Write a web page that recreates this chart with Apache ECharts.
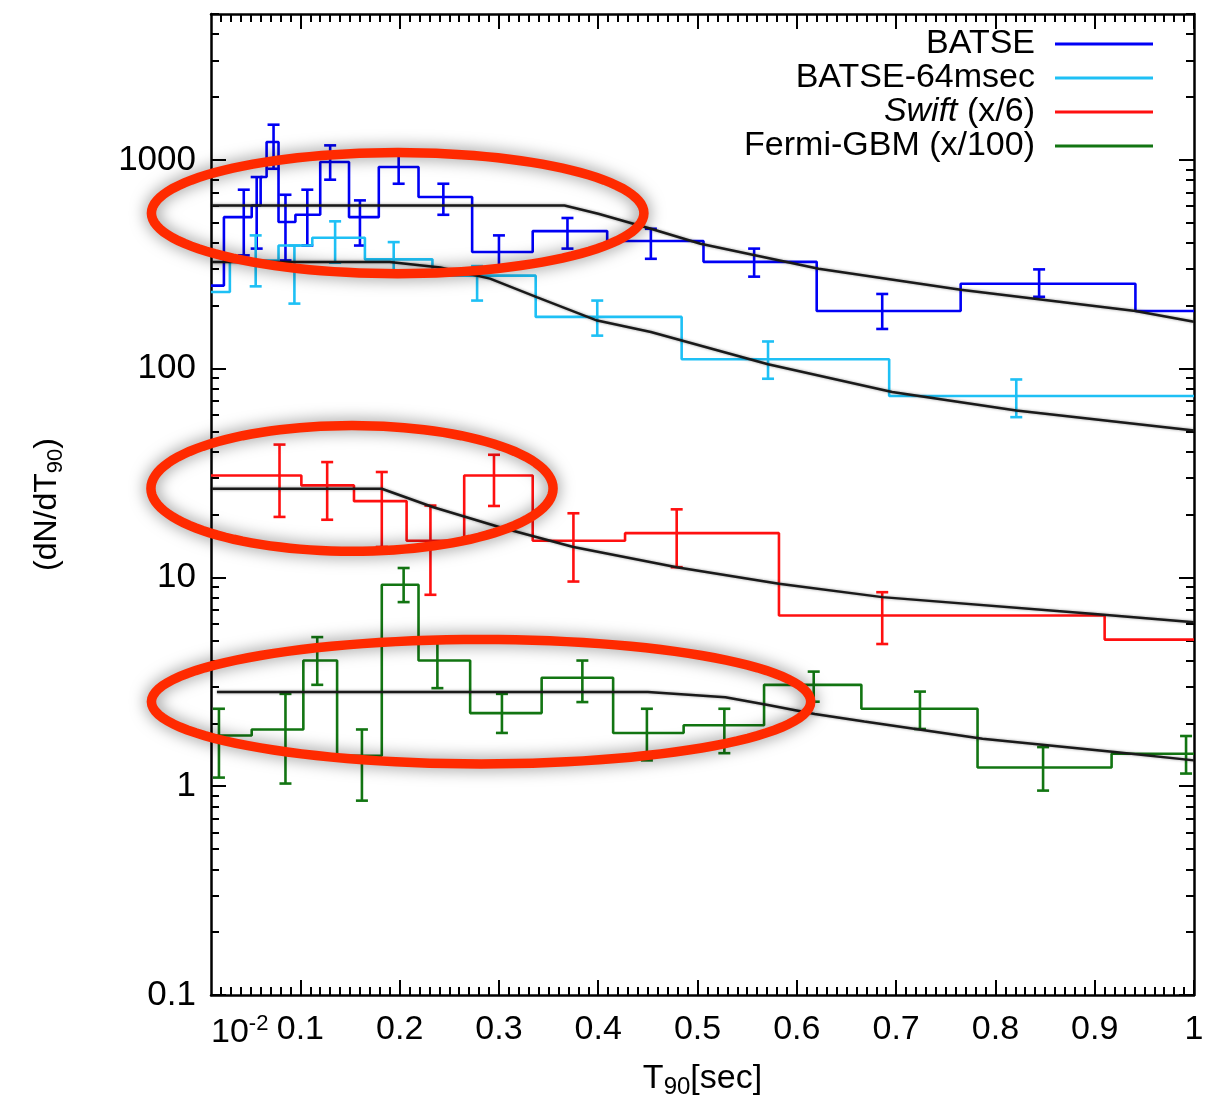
<!DOCTYPE html>
<html><head><meta charset="utf-8">
<script src="https://cdn.jsdelivr.net/npm/echarts@6/dist/echarts.min.js"></script>
<style>html,body{margin:0;padding:0;background:#fff}#c{width:1220px;height:1104px}</style>
</head><body><div id="c"></div>
<script>
// ---------------- data ----------------
const xTickValues = [0.01, 0.1, 0.2, 0.3, 0.4, 0.5, 0.6, 0.7, 0.8, 0.9, 1.0];
const xTickLabels = ['{m|10}{sup|-2}', '0.1', '0.2', '0.3', '0.4', '0.5', '0.6', '0.7', '0.8', '0.9', '1'];
const yTickValues = [0.1, 1, 10, 100, 1000];
const yTickLabels = ['0.1', '1', '10', '100', '1000'];

const seriesNames = ['BATSE', 'BATSE-64msec', 'Swift (x/6)', 'Fermi-GBM (x/100)'];

const batseEdges  = [0.01, 0.023, 0.051, 0.060, 0.066, 0.078, 0.095, 0.120, 0.149, 0.179, 0.219, 0.273, 0.334, 0.409, 0.506, 0.620, 0.765, 0.941, 1.0];
const batseValues = [250, 532, 605, 828, 1219, 504, 546, 977, 532, 925, 664, 362, 456, 409, 325, 189, 255, 189];
const batseErrX    = [0.043, 0.056, 0.073, 0.085, 0.107, 0.130, 0.160, 0.199, 0.244, 0.300, 0.369, 0.453, 0.557, 0.686, 0.844];
const batseErrLow  = [349, 376, 907, 330, 389, 804, 389, 769, 546, 301, 376, 336, 276, 155, 221];
const batseErrHigh = [720, 828, 1475, 681, 720, 1174, 640, 1051, 769, 435, 527, 468, 376, 228, 299];

const b64Edges  = [0.01, 0.029, 0.078, 0.112, 0.165, 0.233, 0.337, 0.484, 0.693, 1.0];
const b64Values = [233, 330, 389, 424, 334, 279, 177, 111, 74];
const b64ErrX    = [0.055, 0.094, 0.135, 0.194, 0.278, 0.399, 0.571, 0.821];
const b64ErrLow  = [248, 205, 322, 285, 212, 144, 89.5, 58.6];
const b64ErrHigh = [435, 389, 508, 404, 310, 212, 135, 88.8];

const swiftEdges  = [0.01, 0.101, 0.154, 0.207, 0.265, 0.334, 0.427, 0.582, 0.910, 1.0];
const swiftValues = [30.8, 27.6, 23.2, 15.0, 30.8, 15.0, 16.3, 6.57, 5.04];
const swiftErrX    = [0.079, 0.127, 0.182, 0.231, 0.295, 0.375, 0.479, 0.686];
const swiftErrLow  = [19.5, 18.9, 14.0, 8.26, 22.0, 9.56, 11.2, 4.8];
const swiftErrHigh = [43.3, 35.7, 32.0, 22.1, 38.7, 20.3, 21.2, 8.5];

const fermiEdges  = [0.01, 0.051, 0.103, 0.137, 0.182, 0.219, 0.271, 0.343, 0.415, 0.486, 0.567, 0.665, 0.782, 0.917, 1.0];
const fermiValues = [1.75, 1.87, 4.0, 1.40, 9.22, 4.0, 2.24, 3.31, 1.80, 1.96, 3.06, 2.35, 1.23, 1.43];
const fermiErrX    = [0.018, 0.085, 0.117, 0.162, 0.204, 0.238, 0.303, 0.384, 0.449, 0.527, 0.617, 0.724, 0.848, 0.992];
const fermiErrLow  = [1.10, 1.03, 3.06, 0.853, 7.62, 2.95, 1.80, 2.53, 1.33, 1.44, 2.54, 1.88, 0.953, 1.15];
const fermiErrHigh = [2.35, 2.77, 5.18, 1.87, 11.1, 4.90, 2.77, 4.0, 2.35, 2.35, 3.54, 2.84, 1.54, 1.74];

// model curves (black)
const batseModelX = [0.011, 0.366, 0.400, 0.453, 0.503, 0.622, 0.765, 0.941, 1.0];
const batseModelY = [605, 605, 552, 468, 397, 301, 239, 189, 168];
const b64ModelX = [0.011, 0.190, 0.241, 0.291, 0.338, 0.399, 0.453, 0.571, 0.696, 0.821, 1.0];
const b64ModelY = [324, 324, 305, 270, 220, 170, 150, 105, 77.3, 63.1, 50.6];
const swiftModelX = [0.011, 0.182, 0.234, 0.301, 0.375, 0.479, 0.582, 0.686, 0.900, 1.0];
const swiftModelY = [26.6, 26.6, 21.7, 17.4, 14.0, 11.2, 9.32, 8.05, 6.69, 6.11];
const fermiModelX = [0.016, 0.450, 0.528, 0.571, 0.618, 0.668, 0.787, 0.920, 1.0];
const fermiModelY = [2.83, 2.83, 2.67, 2.45, 2.22, 2.04, 1.69, 1.46, 1.33];

// red highlight ellipses: [centre x, centre y, half-width (x units), half-height (decades)]
const highlightEllipses = [
  [0.198, 556, 0.248, 0.290],
  [0.152, 26.7, 0.2025, 0.301],
  [0.282, 2.54, 0.332, 0.298]
];

// ---------------- helpers ----------------
const FONT = '"Liberation Sans", Arial, Helvetica, sans-serif';
const COLORS = ['#0000f5', '#1ec0f5', '#ff1010', '#127512'];

function stepData(edges, values) {
  const d = values.map((v, i) => [edges[i], v]);
  d.push([edges[edges.length - 1], values[values.length - 1]]);
  return d;
}
function zip(xs, ys) { return xs.map((x, i) => [x, ys[i]]); }
function errData(xs, lo, hi) { return xs.map((x, i) => [x, lo[i], hi[i]]); }

function renderErr(params, api) {
  const x = api.value(0), lo = api.value(1), hi = api.value(2);
  const a = api.coord([x, lo]), b = api.coord([x, hi]);
  const c = api.visual('color');
  const w = 6, st = { stroke: c, lineWidth: 2.6 };
  return { type: 'group', children: [
    { type: 'line', shape: { x1: a[0], y1: a[1], x2: b[0], y2: b[1] }, style: st },
    { type: 'line', shape: { x1: a[0] - w, y1: a[1], x2: a[0] + w, y2: a[1] }, style: st },
    { type: 'line', shape: { x1: b[0] - w, y1: b[1], x2: b[0] + w, y2: b[1] }, style: st }
  ]};
}
function renderEllipse(params, api) {
  const cx = api.value(0), cy = api.value(1), rx = api.value(2), ry = api.value(3);
  const pts = [];
  const N = 120;
  for (let k = 0; k <= N; k++) {
    const t = 2 * Math.PI * k / N;
    pts.push(api.coord([cx + rx * Math.cos(t), Math.pow(10, Math.log10(cy) + ry * Math.sin(t))]));
  }
  return { type: 'polygon', shape: { points: pts },
    style: { fill: 'none', stroke: '#ff2a00', lineWidth: 9.5, shadowBlur: 16, shadowColor: 'rgba(0,0,0,0.5)' } };
}

const xMinorTicks = [];
for (let i = 2; i < 100; i++) if (i % 10 !== 0) xMinorTicks.push(i / 100);
const xMajorTicks = xTickValues.slice(1);
const yMinorTicks = [];
for (let e = -1; e <= 3; e++) for (let m = 2; m <= 9; m++) {
  const v = +(m * Math.pow(10, e)).toPrecision(6);
  if (v <= 5000) yMinorTicks.push(v);
}

const axisLine = { show: true, lineStyle: { color: '#000', width: 2.5 } };
const tickStyle = { color: '#000', width: 2 };
const xBase = { type: 'value', min: 0.01, max: 1, splitLine: { show: false } };
const yBase = { type: 'log', logBase: 10, min: 0.1, max: 5000, splitLine: { show: false } };

function xAxisDef(pos, major, withLabels) {
  const o = Object.assign({}, xBase, {
    position: pos,
    axisLine: major ? axisLine : { show: false },
    axisTick: { show: true, inside: true, length: major ? 15 : 8, lineStyle: tickStyle,
                customValues: major ? xMajorTicks : xMinorTicks },
    axisLabel: { show: false }
  });
  if (withLabels) {
    o.axisLabel = {
      show: true, customValues: xTickValues, margin: 18, alignMinLabel: 'left',
      color: '#000', fontFamily: FONT, fontSize: 34,
      formatter: function (v) {
        let best = 0;
        xTickValues.forEach((t, i) => { if (Math.abs(t - v) < Math.abs(xTickValues[best] - v)) best = i; });
        return xTickLabels[best];
      },
      rich: {
        m: { fontFamily: FONT, fontSize: 34, color: '#000', verticalAlign: 'middle', lineHeight: 40 },
        sup: { fontFamily: FONT, fontSize: 22, color: '#000', verticalAlign: 'top', lineHeight: 22 }
      }
    };
    o.name = 'T{sub|90}[sec]';
    o.nameLocation = 'middle';
    o.nameGap = 64;
    o.nameTextStyle = { color: '#000', fontFamily: FONT, fontSize: 34, lineHeight: 40,
      rich: { sub: { fontFamily: FONT, fontSize: 24, color: '#000', verticalAlign: 'bottom', lineHeight: 24 } } };
  }
  return o;
}
function yAxisDef(pos, major, withLabels) {
  const o = Object.assign({}, yBase, {
    position: pos,
    axisLine: major ? axisLine : { show: false },
    axisTick: { show: true, inside: true, length: major ? 15 : 8, lineStyle: tickStyle,
                customValues: major ? yTickValues : yMinorTicks },
    axisLabel: { show: false }
  });
  if (withLabels) {
    o.axisLabel = {
      show: true, customValues: yTickValues, margin: 15,
      color: '#000', fontFamily: FONT, fontSize: 35,
      formatter: function (v) {
        let best = 0;
        yTickValues.forEach((t, i) => {
          if (Math.abs(Math.log10(t) - Math.log10(v)) < Math.abs(Math.log10(yTickValues[best]) - Math.log10(v))) best = i;
        });
        return yTickLabels[best];
      }
    };
    o.name = '(dN/dT{sub|90})';
    o.nameLocation = 'middle';
    o.nameGap = 144;
    o.nameTextStyle = { color: '#000', fontFamily: FONT, fontSize: 32, lineHeight: 40,
      rich: { sub: { fontFamily: FONT, fontSize: 22, color: '#000', verticalAlign: 'bottom', lineHeight: 22 } } };
  }
  return o;
}

const histSets = [
  [batseEdges, batseValues, batseErrX, batseErrLow, batseErrHigh],
  [b64Edges, b64Values, b64ErrX, b64ErrLow, b64ErrHigh],
  [swiftEdges, swiftValues, swiftErrX, swiftErrLow, swiftErrHigh],
  [fermiEdges, fermiValues, fermiErrX, fermiErrLow, fermiErrHigh]
];
const modelSets = [[batseModelX, batseModelY], [b64ModelX, b64ModelY], [swiftModelX, swiftModelY], [fermiModelX, fermiModelY]];

const series = [];
modelSets.forEach((m, i) => {
  series.push({ name: 'model' + i, type: 'line', data: zip(m[0], m[1]), symbol: 'none', showSymbol: false,
    lineStyle: { color: '#1a1a1a', width: 2.5, shadowBlur: 3, shadowColor: 'rgba(0,0,0,0.4)' },
    itemStyle: { color: '#1a1a1a' }, z: 4, silent: true });
});
histSets.forEach((h, i) => {
  series.push({ name: seriesNames[i], type: 'line', step: 'end', data: stepData(h[0], h[1]),
    symbol: 'none', showSymbol: false, lineStyle: { color: COLORS[i], width: 2.6 },
    itemStyle: { color: COLORS[i] }, z: 3 });
  series.push({ name: seriesNames[i] + ' err', type: 'custom', renderItem: renderErr,
    data: errData(h[2], h[3], h[4]), encode: { x: 0, y: [1, 2] },
    itemStyle: { color: COLORS[i] }, z: 3, silent: true });
});
series.push({ name: 'highlight', type: 'custom', renderItem: renderEllipse, clip: false,
  data: highlightEllipses, encode: { x: 0, y: 1 }, z: 10, silent: true });

const option = {
  animation: false,
  backgroundColor: '#fff',
  grid: { left: 211, right: 26, top: 14, bottom: 108 },
  xAxis: [xAxisDef('bottom', true, true), xAxisDef('bottom', false, false), xAxisDef('top', true, false), xAxisDef('top', false, false)],
  yAxis: [yAxisDef('left', true, true), yAxisDef('left', false, false), yAxisDef('right', true, false), yAxisDef('right', false, false)],
  legend: {
    data: seriesNames, orient: 'vertical', align: 'right', right: 62, top: 22, itemGap: 0,
    itemWidth: 98, itemHeight: 3, icon: 'rect', selectedMode: false,
    formatter: function (name) { return name === 'Swift (x/6)' ? '{it|Swift} (x/6)' : name; },
    textStyle: { color: '#000', fontFamily: FONT, fontSize: 34, lineHeight: 34, padding: [0, 15, 0, 0],
      rich: { it: { fontStyle: 'italic', fontFamily: FONT, fontSize: 34, color: '#000', lineHeight: 34 } } }
  },
  series: series
};
const chart = echarts.init(document.getElementById('c'), null, { renderer: 'canvas' });
chart.setOption(option);
</script>
</body></html>
